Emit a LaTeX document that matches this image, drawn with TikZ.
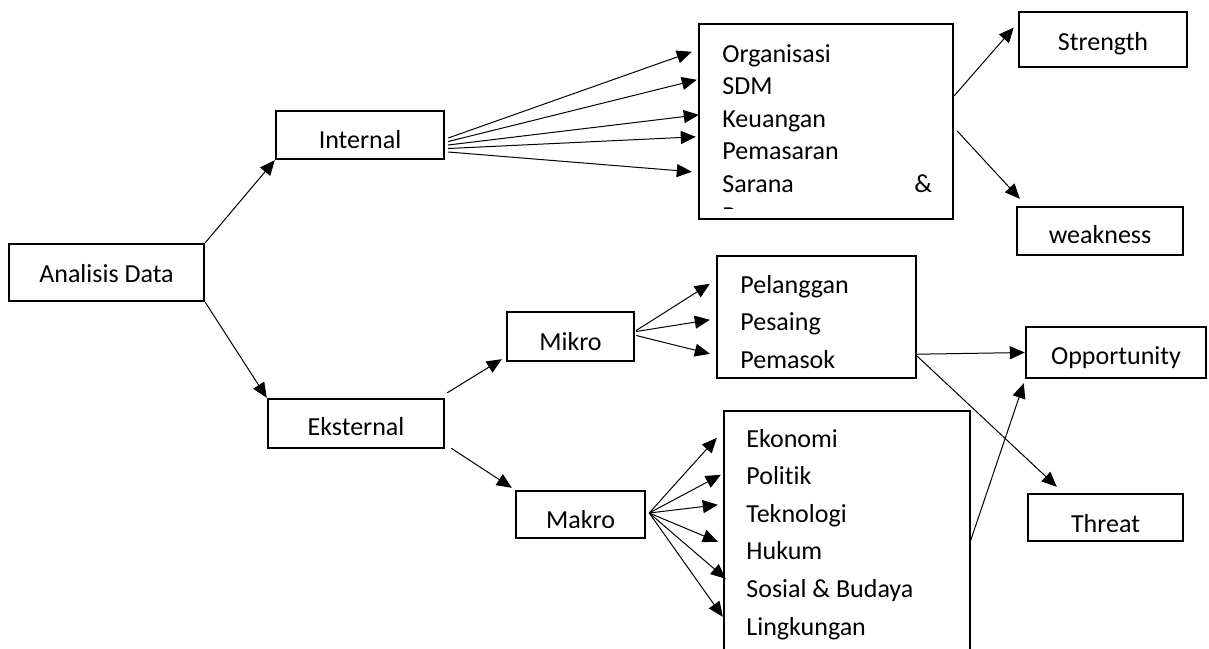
\documentclass[tikz,border=0pt]{standalone}
\usepackage{fontspec}
\setmainfont{Carlito}[Ligatures=NoCommon]
\usetikzlibrary{arrows.meta,calc}

\begin{document}
\begin{tikzpicture}[x=0.5pt,y=-0.5pt,>={Triangle[length=7.5pt,width=6.5pt]},
	every node/.style={font=\fontsize{13}{15}\selectfont},
	box/.style={draw,line width=1.2pt,inner sep=0pt,text height=#1,text depth=0pt},
	box/.default=12pt,
	item/.style={anchor=base west,inner sep=0pt},
	link/.style={->,line width=0.5pt}]
	\useasboundingbox (0,0) rectangle (1209,648);
	\clip (0,0) rectangle (1209,648);
	% Kotak utama
	\node[box=9.5pt,minimum width=97.5pt,minimum height=28.5pt] (ana) at (106.5,272.5) {Analisis Data};
	\node[box=13.3pt,minimum width=84pt,minimum height=24pt] (internal) at (360,135) {Internal};
	\node[box=12.2pt,minimum width=88pt,minimum height=24.5pt] (eksternal) at (356,423.5) {Eksternal};
	\node[box=13.5pt,minimum width=63.5pt,minimum height=24.5pt] (mikro) at (570.5,336.5) {Mikro};
	\node[box,minimum width=64.5pt,minimum height=23.5pt] (makro) at (580.5,514.5) {};
	\begin{scope}
		\clip (516,491) rectangle (645,527);
		\node[anchor=base,inner sep=0pt] (makrotxt) at (580.5,528) {Makro};
	\end{scope}
	% SWOT
	\node[box=10.5pt,minimum width=84pt,minimum height=27.5pt] (strength) at (1103,39.5) {Strength};
	\node[box=12pt,minimum width=83pt,minimum height=24pt] (weakness) at (1100,231) {weakness};
	\node[box=11.5pt,minimum width=90pt,minimum height=25.5pt] (opportunity) at (1116,352.5) {Opportunity};
	\node[box,minimum width=77.5pt,minimum height=23.5pt] (threat) at (1105.5,517.5) {};
	\begin{scope}
		\clip (1028,494) rectangle (1183,531);
		\node[anchor=base,inner sep=0pt] (threattxt) at (1105.5,532) {Threat};
	\end{scope}
	% Faktor internal
	\node[box,minimum width=127pt,minimum height=97.5pt] (intlist) at (826,121.5) {};
	\foreach \t [count=\i] in {Organisasi,SDM,Keuangan,Pemasaran,Sarana}
		\node[item] (int\i) at (722,{62+32.5*(\i-1)}) {\t};
	\node[item] (amp) at (914,192) {\&};
	\begin{scope}
		\clip (699,24) rectangle (953,208.5);
		\node[item] (int6) at (722,224.5) {Prasarana};
	\end{scope}
	% Lingkungan mikro
	\node[box,minimum width=99.5pt,minimum height=61pt] (mikrolist) at (816.5,317) {};
	\foreach \t [count=\i] in {Pelanggan,Pesaing,Pemasok}
		\node[item] (mik\i) at (740,{293+37.5*(\i-1)}) {\t};
	% Lingkungan makro
	\node[box,minimum width=123pt,minimum height=124.5pt] (makrolist) at (847,535.5) {};
	\foreach \t [count=\i] in {Ekonomi,Politik,Teknologi,Hukum,Sosial \& Budaya,Lingkungan}
		\node[item] (mak\i) at (746,{447+37.6*(\i-1)}) {\t};
	% Panah
	\draw[link] (ana.north east) -- (internal.south west);
	\draw[link] (ana.south east) -- (eksternal.north west);
	\foreach \a/\b/\c in {3/-6/29, 6.5/-1/57, 10/1/92, 13.5/-2/114, 17/-6/149}
		\draw[link] ($(internal.east)+(3,\a)$) -- ($(intlist.north west)+(\b,\c)$);
	\draw[link] ($(intlist.north east)+(0,73)$) -- ($(strength.west)+(-4,-12)$);
	\draw[link] ($(intlist.east)+(3,9.5)$) -- ($(weakness.north west)+(4,-7)$);
	\draw[link] ($(eksternal.north east)+(2,-5)$) -- ($(mikro.south west)+(-4,-3)$);
	\draw[link] ($(eksternal.south east)+(6,-1)$) -- ($(makro.north west)+(-3,-2)$);
	\foreach \a/\c in {-6/29, -5/65, -1/99}
		\draw[link] ($(mikro.east)+(1,\a)$) -- ($(mikrolist.north west)+(-6,\c)$);
	\foreach \b/\c in {-6/28, -2/65, -5/95, -5/132, 3/169, 0/207}
		\draw[link] ($(makro.east)+(3,-1.5)$) -- ($(makrolist.north west)+(\b,\c)$);
	\draw[link] ($(mikrolist.south east)+(0,-25)$) -- (opportunity.west);
	\draw[link] ($(mikrolist.south east)+(0,-23)$) -- ($(threat.north west)+(30,-6)$);
	\draw[link] ($(makrolist.north east)+(-1,132)$) -- ($(opportunity.south west)+(-1,4)$);
\end{tikzpicture}
\end{document}
